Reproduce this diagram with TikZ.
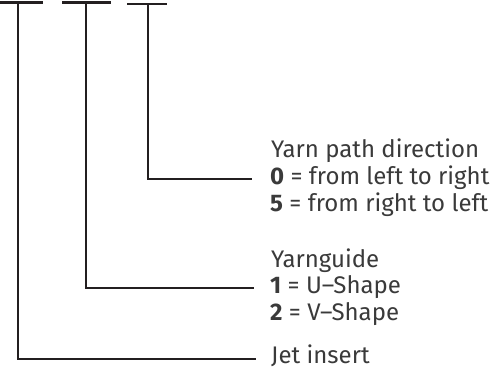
\documentclass[tikz,border=0pt]{standalone}
\usepackage{fontspec}
\setmainfont{Fira Sans}
\definecolor{ink}{HTML}{231F20}
\definecolor{txt}{HTML}{3A3A3A}
\begin{document}
\begin{tikzpicture}[x=1pt,y=-1pt,
  lead/.style={draw=ink,line width=2pt,line cap=butt,line join=miter},
  bar/.style={draw=ink,line width=2.6pt},
  lbl/.style={anchor=base west,inner sep=0pt,text=txt,font=\fontsize{24}{27}\selectfont}]
\useasboundingbox (0,0) rectangle (502,370);
% top bars
\coordinate (b1l) at (0,2.5); \coordinate (b1r) at (43,2.5);
\coordinate (b2l) at (62,2.5); \coordinate (b2r) at (111,2.5);
\coordinate (b3l) at (127,4); \coordinate (b3r) at (167,4);
\draw[bar] (b1l) -- (b1r);
\draw[bar] (b2l) -- (b2r);
\draw[bar] (b3l) -- (b3r);
% labels
\node[lbl] (yarn) at (271,157) {Yarn path direction};
\node[lbl] (yarn0) at (270,184.5) {\textbf{0} = from left to right};
\node[lbl] (yarn5) at (270,211.5) {\textbf{5} = from right to left};
\node[lbl] (guide) at (271,267) {Yarnguide};
\node[lbl] (guide1) at (270,293.5) {\textbf{1} = U–Shape};
\node[lbl] (guide2) at (270,320) {\textbf{2} = V–Shape};
\node[lbl] (jet) at (271,363) {Jet insert};
% end points of leaders
\coordinate (e3) at (252,179);
\coordinate (e2) at (254,287.5);
\coordinate (e1) at (256,358.5);
\draw[lead] (148,4) |- (e3);
\draw[lead] (86,2.5) |- (e2);
\draw[lead] (18,2.5) |- (e1);
\end{tikzpicture}
\end{document}
